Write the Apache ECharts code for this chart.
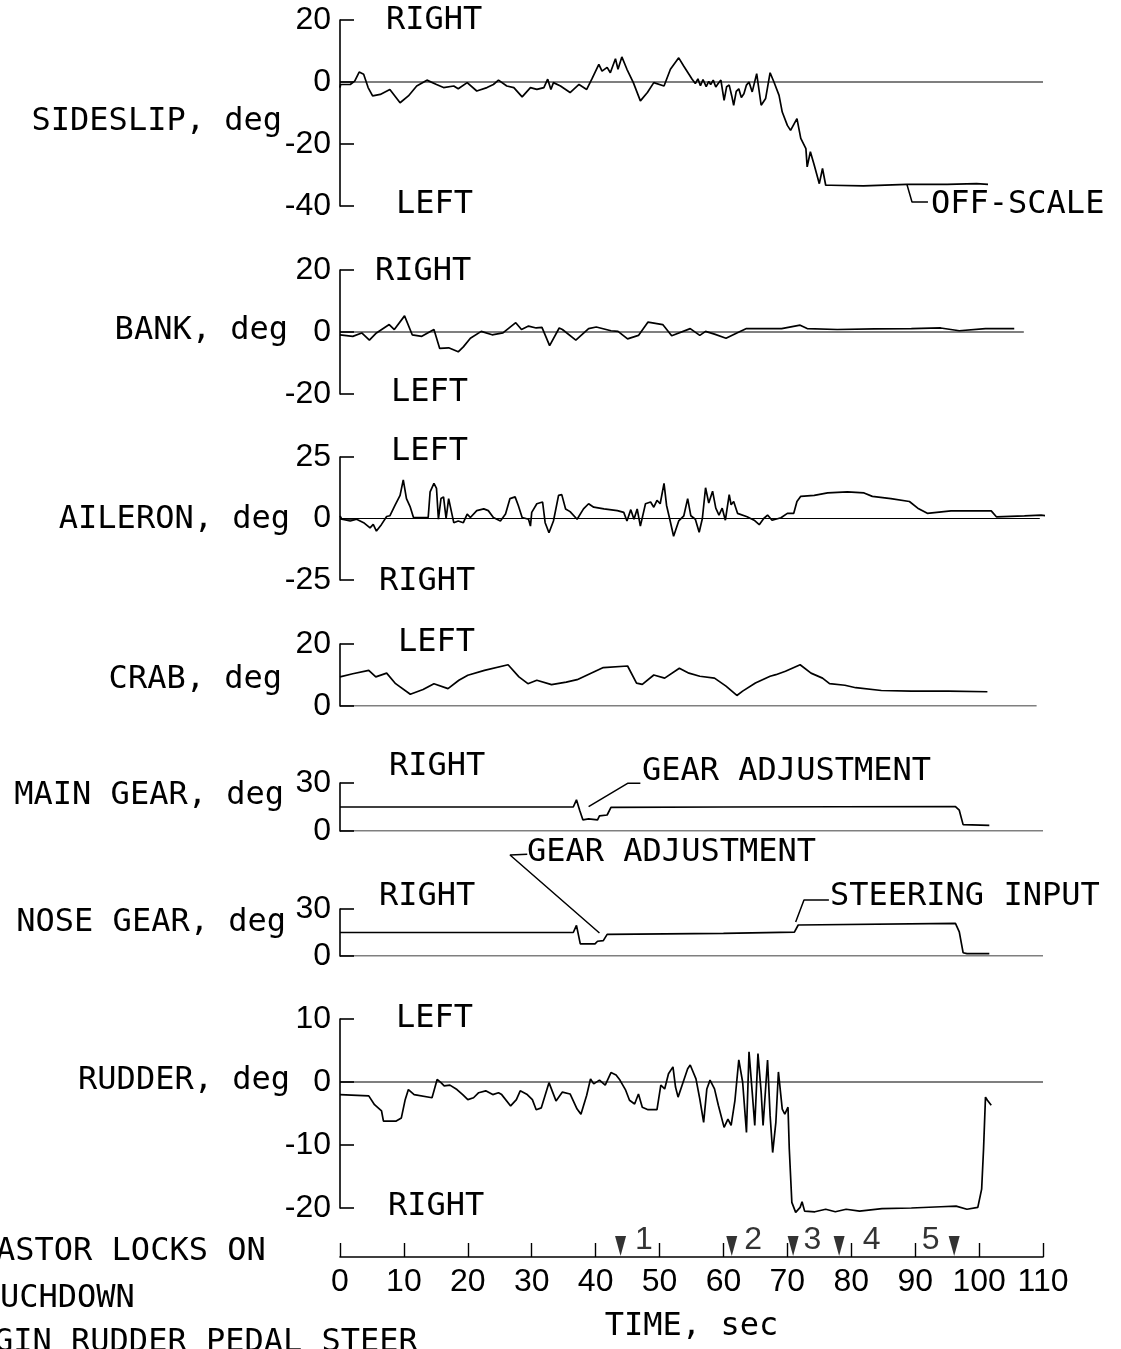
<!DOCTYPE html>
<html>
<head>
<meta charset="utf-8">
<script src="https://cdn.jsdelivr.net/npm/echarts@6/dist/echarts.min.js"></script>
<style>
html,body{margin:0;padding:0;background:#fff;}
#chart{width:1121px;height:1349px;}
</style>
</head>
<body>
<div id="chart"></div>
<script>
// ---------------- DATA ----------------
const timeTicks = [0,10,20,30,40,50,60,70,80,90,100,110];

const sideslipT = [0,0.1,1.6,2.3,3.0,3.7,4.4,5.1,6.3,7.8,9.4,10.7,12.0,13.6,15.1,16.2,17.8,18.5,19.9,21.4,23.0,24.0,24.8,26.1,27.2,28.5,29.8,30.8,31.9,32.5,33.0,33.4,34.5,36.0,37.4,38.6,39.4,40.5,41.0,41.8,42.3,43.1,43.5,44.1,44.9,45.9,47.0,48.1,49.1,50.7,51.7,53.0,53.8,55.1,55.6,56.0,56.4,56.8,57.3,57.7,58.0,58.4,58.8,59.2,59.6,60.1,60.5,60.9,61.3,61.6,62.0,62.4,62.8,63.2,63.6,64.0,64.5,65.2,65.9,66.6,67.3,67.9,68.7,69.2,70.0,70.5,71.5,72.1,72.9,73.1,73.6,74.2,75.0,75.5,76.0,76.8,81.9,88.7,95.0,99.6,101.4];
const sideslipV = [-1.8,-0.8,-0.8,0.3,3.2,2.5,-1.8,-4.5,-4.0,-2.4,-6.7,-4.5,-1.3,0.6,-0.8,-1.8,-1.3,-2.2,-0.2,-2.9,-1.8,-0.8,0.6,-1.3,-1.8,-4.8,-1.8,-2.4,-1.8,0.9,-2.4,-0.2,-1.3,-3.4,-0.8,-2.4,0.9,5.7,3.5,4.7,3.0,7.5,4.1,8.1,4.1,-0.2,-6.1,-3.4,-0.2,-1.3,4.1,7.8,5.1,0.9,-0.5,1.0,-1.2,0.8,-1.5,0.2,-0.8,0.6,-1.6,-0.4,0.6,-5.9,-1.5,-1.0,-4.5,-7.5,-3.0,-2.2,-5.0,-3.8,-1.0,0,-3.2,2.7,-7.5,-5.3,3.0,0,-4.3,-9.7,-14.0,-15.6,-11.8,-18.2,-21.5,-27.4,-22.5,-26.8,-32.8,-27.9,-33.3,-33.3,-33.5,-33.0,-33.0,-32.8,-33.0];

const bankT = [0,2.0,3.4,4.6,5.7,7.7,8.5,10.1,11.3,12.8,14.7,15.6,17.0,18.5,19.3,20.4,22.1,23.8,25.5,27.5,28.4,29.5,30.7,31.6,32.8,34.3,34.8,36.9,38.9,40.1,42.4,43.5,45.0,46.7,48.2,50.5,51.9,54.8,56.3,57.2,58.6,60.4,62.1,63.6,66.2,69.1,72.0,73.1,77.8,83.6,89.4,94.0,96.9,101.0,105.5];
const bankV = [-0.9,-1.4,-0.3,-2.6,-0.3,2.4,0.8,5.2,-0.9,-1.4,0.8,-5.3,-5.1,-6.4,-4.8,-2.0,0.2,-0.9,-0.3,3.0,0.8,1.9,1.3,1.5,-4.4,1.3,0.8,-2.6,1.1,1.6,0.4,0.2,-2.2,-1.1,3.2,2.4,-1.2,1.1,-1.1,0.2,-0.7,-2.0,-0.3,1.1,1.1,1.1,2.2,1.1,0.8,1.0,1.1,1.3,0.4,1.1,1.1];

const aileronT = [0,0.3,1.6,2.6,3.7,4.7,5.2,5.7,6.5,7.3,7.8,8.6,9.4,9.9,10.4,11.0,11.5,13.8,14.1,14.7,15.1,15.4,15.8,16.2,16.6,17.0,17.3,17.8,18.5,19.3,19.9,20.4,21.4,22.5,23.2,24.0,25.1,25.9,26.6,27.4,27.9,28.5,29.5,29.8,30.0,30.8,31.7,32.1,32.7,33.4,34.2,34.7,35.3,36.0,37.1,38.1,38.9,39.7,41.3,43.4,44.4,44.9,45.5,46.0,46.5,47.0,47.8,48.6,49.1,49.6,50.1,50.7,51.1,51.6,52.2,53.0,53.8,54.4,54.9,55.6,56.2,56.7,57.2,57.7,58.3,58.8,59.3,59.8,60.3,60.9,61.2,61.6,62.2,63.7,64.8,65.6,66.3,66.9,67.6,69.0,70.0,71.0,71.5,72.1,74.2,76.3,79.4,82.0,83.3,86.2,89.1,90.4,91.9,95.6,101.9,102.7,107.1,109.7,111.8];
const aileronV = [1.0,-0.3,-1.0,-0.3,-1.7,-3.8,-2.4,-5.1,-2.4,0.8,1.1,5.3,9.4,15.7,8.1,4.6,0.4,0.4,10.8,14.3,12.2,-0.3,8.1,8.8,0,8.1,8.8,-1.7,-1.0,-1.7,1.8,0.4,3.2,3.9,3.2,0.4,-1.0,1.8,8.1,8.8,5.3,0.4,-0.3,-3.1,2.5,6.0,6.7,-1.7,-5.8,-1.0,9.4,9.7,3.9,2.8,-0.3,3.9,6.0,4.6,3.9,3.2,2.5,-1.0,3.6,-0.3,3.9,-3.1,6.0,6.7,4.6,7.4,6.0,14.3,5.3,-0.3,-7.2,-1.0,1.1,8.1,1.1,-0.3,-5.6,0,12.5,6.3,11.1,4.2,1.4,4.2,-0.7,9.7,5.6,6.9,2.1,0.7,-0.7,-2.5,0,1.4,-0.7,0.3,2.1,2.1,6.9,9.0,9.4,10.4,10.8,10.4,9.0,8.1,6.9,4.2,2.1,3.1,3.1,0.7,1.1,1.4,0.7];

const crabT = [0,2.0,4.5,5.6,7.3,8.7,11.0,13.0,14.7,16.9,18.6,20.0,22.6,26.3,28.0,29.4,30.8,33.1,35.4,37.1,41.2,45.0,46.4,47.3,49.1,50.8,53.1,54.6,56.3,58.6,60.4,62.1,63.0,65.0,67.3,68.2,69.7,72.0,73.7,75.5,76.6,79.0,80.7,84.7,89.4,95.2,101.3];
const crabV = [9.4,10.4,11.5,9.4,10.6,7.2,3.8,5.3,7.2,5.6,8.3,9.9,11.5,13.3,9.4,7.2,8.3,6.9,7.7,8.5,12.4,12.9,7.4,7.0,10.0,9.0,12.2,10.6,9.6,9.0,6.4,3.4,4.8,7.4,9.6,10.1,11.2,13.3,10.6,9.0,7.2,6.7,5.9,5.0,4.8,4.8,4.6];

const mainGearT = [0,36.5,37.0,37.5,38.0,38.9,40.3,40.6,41.8,42.4,60.0,96.3,96.9,97.5,97.8,101.6];
const mainGearV = [15,15,19.5,13,7,7.6,6.9,9.4,10,14.8,15,15.3,13,4,3.5,3.5];

const noseGearT = [0,36.5,37.0,37.6,39.9,40.3,41.2,41.8,60.0,71.1,71.7,72.0,96.3,96.9,97.5,98.1,101.6];
const noseGearV = [15,15,19.5,7.7,7.7,9.4,9.8,13.8,14.5,15.2,19.8,20.5,20.8,15.4,2.1,1.5,1.5];

const rudderT = [0,4.5,5.4,6.5,6.8,8.8,9.6,10.2,10.7,11.6,14.4,15.2,15.8,16.3,17.2,18.3,19.2,20.0,20.9,21.7,22.8,23.9,24.8,25.3,26.7,27.6,28.2,29.3,30.1,30.7,31.5,32.7,33.8,34.8,36.0,37.1,37.7,38.6,39.2,39.7,40.6,41.5,42.4,43.2,43.8,44.7,45.3,46.1,46.7,47.3,48.2,49.6,50.2,50.8,51.4,52.1,52.5,52.9,53.7,54.4,54.8,55.7,56.3,56.9,57.4,57.9,58.6,59.2,60.1,60.7,61.2,61.8,62.4,63.0,63.6,64.0,64.5,64.9,65.4,65.9,66.2,66.9,67.3,67.7,68.2,68.6,69.2,69.6,70.1,70.3,70.7,71.3,72.0,72.3,72.7,74.3,76.0,77.5,79.2,81.3,84.8,89.4,94.0,96.4,98.1,99.8,100.4,100.7,101.0,101.3,101.9];
const rudderV = [-2.0,-2.2,-3.6,-4.6,-6.2,-6.2,-5.7,-2.8,-1.2,-2.0,-2.5,0.4,-0.1,-0.6,-0.5,-1.2,-2.0,-2.8,-2.5,-1.7,-1.4,-2.0,-1.7,-2.0,-3.8,-2.8,-1.4,-2.0,-2.8,-4.4,-4.1,-0.1,-3.0,-1.6,-1.9,-4.3,-5.1,-2.1,0.5,-0.3,0.3,-0.5,1.5,1.1,0.3,-1.3,-2.9,-3.5,-1.9,-4.0,-4.4,-4.4,-0.5,-1.1,1.3,2.4,-0.8,-2.4,0,2.1,2.7,0.5,-2.7,-6.4,-1.1,0.3,-1.1,-3.7,-7.2,-5.9,-6.9,-2.9,3.5,0,-8.0,4.8,-1.6,-6.9,4.5,-1.6,-6.9,3.5,-5.3,-11.2,-6.4,1.6,-4.3,-5.1,-4.0,-10.6,-19.1,-20.7,-19.9,-19.0,-20.5,-20.6,-20.2,-20.6,-20.2,-20.5,-20.1,-20.0,-19.8,-19.7,-20.2,-19.9,-17.0,-10.6,-2.4,-2.9,-3.7];

// zero reference lines (end time of each panel's 0-line)
const zeroLineEnd = [110, 107, 109.5, 109, 110, 110, 110];

// event markers on the time axis
const eventT = [43.9, 61.3, 70.9, 78.1, 96.1];
const eventLabels = ['1','2','3','4','5'];

// annotation leader lines (time, value in the panel's own units)
const offScaleLeaderT = [88.7, 89.5, 92.0];
const offScaleLeaderV = [-33.0, -38.7, -38.7];
const mainGearLeaderT = [38.9, 45.0, 47.0];
const mainGearLeaderV = [15.2, 29.8, 29.8];
const noseAdjLeaderT = [29.3, 26.6, 40.6];
const noseAdjLeaderV = [65.0, 64.5, 14.7];
const steeringLeaderT = [71.3, 72.6, 76.5];
const steeringLeaderV = [21.7, 35.7, 35.7];

// ---------------- LAYOUT / STYLE ----------------
const WORD_FONT = '"DejaVu Sans Mono", "Liberation Mono", monospace';
const NUM_FONT = '"Liberation Sans", Arial, sans-serif';
const NUM_SIZE = 32;
const INK = '#000';
const LEFT = 340, RIGHT = 78;

const panels = [
  {top: 20,   height: 186, min: -40, max: 20, interval: 20, t: sideslipT, v: sideslipV},
  {top: 270,  height: 124, min: -20, max: 20, interval: 20, t: bankT, v: bankV},
  {top: 457,  height: 123, min: -25, max: 25, interval: 25, t: aileronT, v: aileronV},
  {top: 644,  height: 62,  min: 0,   max: 20, interval: 20, t: crabT, v: crabV},
  {top: 783,  height: 48,  min: 0,   max: 30, interval: 30, t: mainGearT, v: mainGearV},
  {top: 909,  height: 47,  min: 0,   max: 30, interval: 30, t: noseGearT, v: noseGearV},
  {top: 1019, height: 189, min: -20, max: 10, interval: 10, t: rudderT, v: rudderV}
];

const zip = (t, v) => t.map((x, i) => [x, v[i]]);

const grid = [], xAxis = [], yAxis = [], series = [];

panels.forEach((p, i) => {
  grid.push({left: LEFT, right: RIGHT, top: p.top, height: p.height, containLabel: false, outerBoundsMode: 'none'});
  xAxis.push({gridIndex: i, type: 'value', min: 0, max: 110, show: false});
  yAxis.push({
    gridIndex: i, type: 'value', min: p.min, max: p.max, interval: p.interval,
    axisLine: {show: true, onZero: false, lineStyle: {color: INK, width: 1.6}},
    axisTick: {show: true, inside: true, length: 14, lineStyle: {color: INK, width: 1.6}},
    axisLabel: {show: true, color: INK, fontSize: NUM_SIZE, fontFamily: NUM_FONT, margin: 9, showMinLabel: true, showMaxLabel: true},
    splitLine: {show: false}
  });
  series.push({
    type: 'line', xAxisIndex: i, yAxisIndex: i, silent: true, symbol: 'none', animation: false,
    data: [[0, 0], [zeroLineEnd[i], 0]],
    lineStyle: {color: INK, width: 1.2}
  });
  series.push({
    type: 'line', xAxisIndex: i, yAxisIndex: i, silent: true, symbol: 'none', animation: false, clip: false,
    data: zip(p.t, p.v),
    lineStyle: {color: INK, width: 1.7}
  });
});

// time axis grid
grid.push({left: LEFT, right: RIGHT, top: 1225, height: 32, containLabel: false, outerBoundsMode: 'none'});
xAxis.push({
  gridIndex: 7, type: 'value', min: 0, max: 110, interval: 10,
  axisLine: {show: true, onZero: false, lineStyle: {color: INK, width: 1.6}},
  axisTick: {show: true, inside: true, length: 14, lineStyle: {color: INK, width: 1.4}},
  axisLabel: {show: true, color: INK, fontSize: NUM_SIZE, fontFamily: NUM_FONT, margin: 9, showMinLabel: true, showMaxLabel: true,
    formatter: v => timeTicks.indexOf(v) >= 0 ? String(v) : ''},
  splitLine: {show: false},
  name: 'TIME, sec', nameLocation: 'middle', nameGap: 54,
  nameTextStyle: {color: INK, fontSize: 32, fontFamily: WORD_FONT}
});
yAxis.push({gridIndex: 7, type: 'value', min: 0, max: 1, show: false});

const labelCfg = [
  {position: 'right', distance: 9},
  {position: 'right', distance: 7},
  {position: 'right', distance: 5},
  {position: 'right', distance: 18},
  {position: 'left', distance: 9}
];
series.push({
  type: 'scatter', xAxisIndex: 7, yAxisIndex: 7, silent: true, animation: false, clip: false,
  symbol: 'triangle', symbolRotate: 180, symbolSize: [11, 20], symbolOffset: [0, -11],
  itemStyle: {color: INK},
  data: eventT.map((t, i) => ({
    value: [t, 0], name: eventLabels[i],
    label: Object.assign({show: true, formatter: '{b}', color: INK, fontSize: NUM_SIZE, fontFamily: NUM_FONT, offset: [0, -6]}, labelCfg[i])
  }))
});

// leader lines for annotations
const leader = (ti, t, v) => ({
  type: 'line', xAxisIndex: ti, yAxisIndex: ti, silent: true, symbol: 'none', animation: false, clip: false,
  data: zip(t, v), lineStyle: {color: INK, width: 1.5}
});
series.push(leader(0, offScaleLeaderT, offScaleLeaderV));
series.push(leader(4, mainGearLeaderT, mainGearLeaderV));
series.push(leader(5, noseAdjLeaderT, noseAdjLeaderV));
series.push(leader(5, steeringLeaderT, steeringLeaderV));

// text labels
const texts = [
  ['SIDESLIP, deg', 282, 122, 'right'],
  ['BANK, deg', 288, 331, 'right'],
  ['AILERON, deg', 290, 520, 'right'],
  ['CRAB, deg', 282, 680, 'right'],
  ['MAIN GEAR, deg', 284, 796, 'right'],
  ['NOSE GEAR, deg', 286, 923, 'right'],
  ['RUDDER, deg', 290, 1081, 'right'],
  ['RIGHT', 386, 21, 'left'],
  ['LEFT', 396, 205, 'left'],
  ['RIGHT', 375, 272, 'left'],
  ['LEFT', 391, 393, 'left'],
  ['LEFT', 391, 452, 'left'],
  ['RIGHT', 379, 582, 'left'],
  ['LEFT', 398, 643, 'left'],
  ['RIGHT', 389, 767, 'left'],
  ['RIGHT', 379, 897, 'left'],
  ['LEFT', 396, 1019, 'left'],
  ['RIGHT', 388, 1207, 'left'],
  ['OFF-SCALE', 931, 205, 'left'],
  ['GEAR ADJUSTMENT', 642, 772, 'left'],
  ['GEAR ADJUSTMENT', 527, 853, 'left'],
  ['STEERING INPUT', 830, 897, 'left'],
  ['ASTOR LOCKS ON', -4, 1252, 'left'],
  ['UCHDOWN', 0, 1299, 'left'],
  ['GIN RUDDER PEDAL STEER', -6, 1343, 'left']
];
const graphic = texts.map(([txt, x, y, align]) => ({
  type: 'text', x: x, y: y, silent: true, z: 100,
  style: {text: txt, fill: INK, fontSize: 32, fontFamily: WORD_FONT, align: align, verticalAlign: 'middle'}
}));

const chart = echarts.init(document.getElementById('chart'), null, {renderer: 'canvas'});
chart.setOption({
  backgroundColor: '#fff',
  animation: false,
  grid, xAxis, yAxis, series, graphic
});
</script>
</body>
</html>
